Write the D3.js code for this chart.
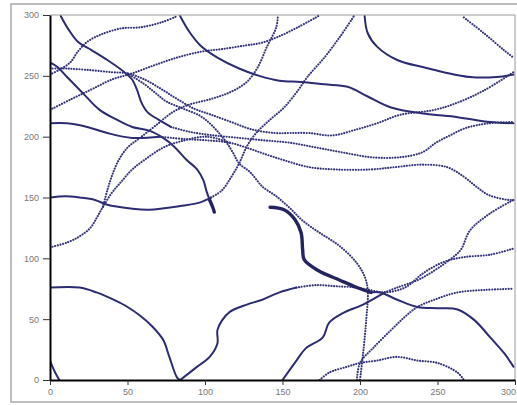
<!DOCTYPE html>
<html>
<head>
<meta charset="utf-8">
<script src="https://cdn.jsdelivr.net/npm/d3@7"></script>
<style>
  body { margin: 0; background: #fff; }
  svg { display: block; }
  .tick text { font-family: "Liberation Sans", Arial, sans-serif; font-size: 9px; fill: #777; }
</style>
</head>
<body>
<div id="chart"></div>
<script>
// tick values for both axes
const xTicks = [0, 50, 100, 150, 200, 250, 300];
const yTicks = [0, 50, 100, 150, 200, 250, 300];

// trajectories, [x, y] in data units
const s1Solid = [[7,299],[12,288],[18,278],[27,271],[37,263],[48,253],[53,247],[56,239],[59,228],[63,220],[70,214],[78,208]];
const s1Dotted = [[78,208],[90,204],[106,201],[122,199],[138,197],[155,195],[172,191],[189,187],[208,183],[225,183],[240,187],[249,195],[258,201],[268,207],[283,211],[299,212]];
const aDotted = [[0,256],[10,256],[23,255],[40,253],[50,252],[61,247],[72,239],[82,231],[93,223],[104,218],[117,212],[130,206],[145,203],[155,203],[167,203],[182,201],[198,206],[211,211],[226,218],[248,222],[263,228],[280,238],[299,253]];
const s2Solid = [[0,261],[5,257],[11,249],[21,236],[32,222],[43,214],[53,208],[64,205],[73,199],[80,192],[88,181],[95,173],[99,164],[101,155],[103,148]];
const s2Heavy = [[103,148],[105,142],[106,138]];
const s3Solid = [[0,211],[11,211],[24,208],[37,203],[53,199],[71,200]];
const s3Dotted = [[71,200],[87,198],[101,197],[116,195],[129,190],[138,186],[150,181],[167,175],[185,173],[206,173],[223,175],[240,177],[256,175],[266,168],[275,159],[283,152],[296,148],[299,148]];
const rSolid = [[0,150],[10,151],[19,150],[29,148],[37,144],[52,141],[64,140],[84,143],[97,146],[104,150]];
const rDotted = [[104,150],[111,156],[117,167],[122,178],[127,192],[133,203],[142,214],[151,224],[160,238],[166,249],[177,265],[187,282],[196,299]];
const pDotted = [[0,109],[11,113],[19,118],[26,125],[30,133],[34,142],[40,154],[46,163],[53,173],[61,181],[73,191],[84,196],[101,200],[116,195]];
const p2Dotted = [[34,142],[37,156],[40,168],[44,180],[50,191],[58,199],[68,209],[79,220],[89,226],[104,231],[117,237],[127,245],[134,257],[140,274],[146,290],[147,299]];
const d1Dotted = [[0,222],[14,231],[27,239],[40,247],[53,252],[68,259],[82,265],[98,270],[111,272],[126,275],[136,277],[147,282],[160,290],[173,299]];
const uDotted = [[0,251],[6,255],[13,261],[18,270],[24,278],[33,284],[46,289],[59,290],[72,294],[82,299]];
const tSolid = [[84,299],[90,286],[97,275],[108,265],[122,256],[135,250],[148,246],[162,245],[177,243],[192,241],[205,233],[220,224],[241,219],[263,216],[284,212],[299,211]];
const vSolid = [[203,299],[205,285],[211,274],[224,263],[241,257],[254,253],[271,249],[288,249],[299,251]];
const wDotted = [[267,298],[280,285],[293,271],[299,265]];
const eDotted = [[50,252],[60,244],[68,236],[75,229],[86,223],[97,217],[103,211],[109,203],[114,195],[118,187],[122,178],[129,171],[137,159],[146,151],[155,141],[163,131],[174,121],[187,110],[198,96],[203,85],[205,74],[204,49],[202,22],[200,0]];
const ySolid = [[0,76],[19,76],[30,72],[41,66],[50,60],[58,53],[66,44],[73,33],[77,19],[82,2],[84,0]];
const zSolid = [[84,0],[95,11],[103,19],[108,30],[108,41],[111,49],[116,56],[127,62],[137,66],[148,72],[159,76]];
const zDotted = [[159,76],[172,78],[185,77],[198,76],[206,74],[216,72],[229,76],[241,88],[254,97],[267,101],[284,103],[299,108]];
const fHeavy = [[142,142],[151,140],[158,132],[162,121],[163,107],[164,99],[173,90],[187,82],[198,76],[207,72]];
const fSolid = [[207,72],[213,72],[224,66],[237,60],[250,59],[263,58],[274,49],[284,35],[293,22],[299,11]];
const dSolid = [[150,0],[159,16],[165,26],[176,35],[180,47],[189,55],[202,62],[216,72]];
const dDotted = [[216,72],[224,76],[237,82],[248,90],[258,99],[265,107],[271,123],[284,137],[299,148]];
const gDotted = [[198,0],[200,14],[209,27],[220,41],[229,52],[237,60],[248,66],[263,72],[280,74],[299,75]];
const archDotted = [[174,0],[180,6],[192,11],[200,14],[211,16],[224,19],[237,16],[250,14],[263,6],[267,0]];
const cornerSolid = [[0,16],[3,7],[6,0]];

const segments = [
    { pts: s1Solid, kind: 'solid' }, { pts: s1Dotted, kind: 'dotted' },
    { pts: aDotted, kind: 'dotted' },
    { pts: s2Solid, kind: 'solid' }, { pts: s2Heavy, kind: 'heavy' },
    { pts: s3Solid, kind: 'solid' }, { pts: s3Dotted, kind: 'dotted' },
    { pts: rSolid, kind: 'solid' }, { pts: rDotted, kind: 'dotted' },
    { pts: pDotted, kind: 'dotted' }, { pts: p2Dotted, kind: 'dotted' },
    { pts: d1Dotted, kind: 'dotted' }, { pts: uDotted, kind: 'dotted' },
    { pts: tSolid, kind: 'solid' }, { pts: vSolid, kind: 'solid' },
    { pts: wDotted, kind: 'dotted' }, { pts: eDotted, kind: 'dotted' },
    { pts: ySolid, kind: 'solid' },
    { pts: zSolid, kind: 'solid' }, { pts: zDotted, kind: 'dotted' },
    { pts: fHeavy, kind: 'heavy' }, { pts: fSolid, kind: 'solid' },
    { pts: dSolid, kind: 'solid' }, { pts: dDotted, kind: 'dotted' },
    { pts: gDotted, kind: 'dotted' }, { pts: archDotted, kind: 'dotted' },
    { pts: cornerSolid, kind: 'solid' }
];

const width = 517;
const height = 405;
const margin = { top: 15, right: 2, bottom: 25, left: 50 };

const svg = d3.select('#chart').append('svg')
    .attr('width', width)
    .attr('height', height);

// outer grey frame (right side runs off the picture)
svg.append('rect')
    .attr('x', 11).attr('y', 4)
    .attr('width', 520).attr('height', 398)
    .attr('fill', 'none')
    .attr('stroke', '#a8a8a8')
    .attr('stroke-width', 1.5);

const x = d3.scaleLinear().domain([0, 300]).range([margin.left, width - margin.right]);
const y = d3.scaleLinear().domain([0, 300]).range([height - margin.bottom, margin.top]);

// thin grey border on the top and right of the plot
svg.append('path')
    .attr('d', `M${x(0)},${y(300)}H${x(300)}V${y(0)}`)
    .attr('fill', 'none')
    .attr('stroke', '#9a9a9a')
    .attr('stroke-width', 1);

svg.append('clipPath').attr('id', 'plot-clip')
    .append('rect')
    .attr('x', x(0)).attr('y', y(300))
    .attr('width', x(300) - x(0)).attr('height', y(0) - y(300));

const line = d3.line()
    .x(d => x(d[0]))
    .y(d => y(d[1]))
    .curve(d3.curveCatmullRom.alpha(0.5));

const styles = {
    solid: { width: 2, dash: null, color: '#2c2c72' },
    heavy: { width: 3.4, dash: null, color: '#24245f' },
    dotted: { width: 2.1, dash: '0.1 2.6', color: '#34347c' }
};

const g = svg.append('g').attr('clip-path', 'url(#plot-clip)');
segments.forEach(s => {
    const st = styles[s.kind];
    g.append('path')
        .attr('d', line(s.pts))
        .attr('fill', 'none')
        .attr('stroke', st.color)
        .attr('stroke-width', st.width)
        .attr('stroke-linecap', 'round')
        .attr('stroke-linejoin', 'round')
        .attr('stroke-dasharray', st.dash);
});

// axes
const xAxis = svg.append('g')
    .attr('transform', `translate(0,${y(0)})`)
    .call(d3.axisBottom(x).tickValues(xTicks).tickSize(5).tickSizeOuter(0).tickPadding(4));
xAxis.select('.domain').attr('stroke', '#000').attr('stroke-width', 2);
xAxis.selectAll('.tick line').attr('stroke', '#333');
xAxis.select('.tick:last-of-type text').attr('dx', -7);

const yAxis = svg.append('g')
    .attr('transform', `translate(${x(0)},0)`)
    .call(d3.axisLeft(y).tickValues(yTicks).tickSize(7).tickSizeOuter(0).tickPadding(4));
yAxis.select('.domain').attr('stroke', '#000').attr('stroke-width', 2);
yAxis.selectAll('.tick line').attr('stroke', '#333');
</script>
</body>
</html>
